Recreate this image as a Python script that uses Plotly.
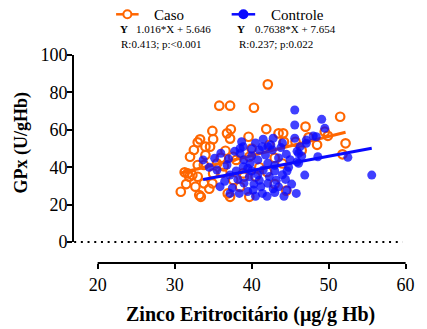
import plotly.graph_objects as go

# Zinco eritrocitário (x) vs GPx (y) for each group
caso_x = [42.1, 35.8, 37.2, 40.3, 51.5, 47.0, 34.9, 37.3, 36.8, 37.2, 39.6, 41.9,
          33.3, 33.0, 34.0, 34.6, 32.5, 36.6, 32.0, 37.6, 39.7, 33.0, 33.8, 31.7,
          32.3, 31.9, 33.0, 31.3, 32.7, 33.8, 34.9, 33.2, 30.8, 36.9, 37.6, 38.9,
          38.0, 43.5, 44.1, 49.5, 49.9, 47.4, 45.7, 44.2, 42.3, 52.2, 51.8, 39.7,
          44.5, 37.2, 33.4, 35.0, 36.2, 39.0, 40.5, 34.5, 36.0, 41.0, 43.0, 40.0,
          35.5, 38.5, 42.0, 44.0, 46.5, 34.0, 31.5, 35.0, 43.0, 48.5, 36.4]
caso_y = [84.3, 72.9, 72.9, 71.8, 67.0, 61.7, 59.4, 60.3, 58.1, 55.3, 56.3, 60.4,
          54.9, 53.3, 51.0, 51.0, 49.2, 48.8, 45.6, 45.6, 45.6, 41.2, 41.2, 36.7,
          35.8, 34.9, 34.9, 37.3, 29.6, 31.4, 31.4, 25.1, 26.9, 26.0, 33.2, 36.7,
          43.9, 58.1, 58.1, 59.0, 56.8, 56.0, 53.6, 53.6, 51.9, 52.8, 46.9, 24.2,
          27.5, 24.2, 24.2, 36.7, 37.0, 35.0, 35.0, 28.5, 45.0, 40.0, 45.0, 50.0,
          42.0, 29.5, 37.5, 42.0, 49.0, 46.5, 31.0, 55.0, 31.0, 52.0, 40.5]

controle_x = [45.6, 49.1, 45.6, 49.5, 45.6, 47.1, 48.4, 48.0, 48.6, 46.9, 55.6, 52.5,
              44.4, 46.1, 45.8, 44.6, 45.9, 46.1, 47.1, 46.3, 45.9, 38.7, 38.5, 40.0,
              41.0, 42.1, 33.7, 35.2, 36.8, 35.9, 38.4, 35.5, 37.2, 38.9, 38.9, 38.5,
              39.7, 40.2, 41.4, 42.1, 40.8, 42.1, 42.7, 41.4, 42.5, 37.2, 39.5, 40.5,
              43.0, 43.5, 44.0, 43.0, 41.5, 40.0, 39.0, 40.0, 43.5, 44.5, 43.8, 41.0,
              42.3, 40.3, 39.0, 36.5, 38.0, 37.0, 41.8, 44.8, 42.8, 41.2, 39.8, 43.2,
              42.0, 44.2, 36.0, 37.8, 45.0, 43.0, 40.5, 44.0, 42.8, 41.5, 39.5, 38.2,
              45.2, 44.6, 40.8, 37.5, 46.5, 34.5]
controle_y = [70.6, 65.6, 62.6, 60.8, 55.5, 54.5, 56.3, 56.7, 45.6, 35.8, 35.8, 45.3,
              33.5, 42.1, 26.0, 27.8, 42.9, 47.4, 52.8, 51.0, 48.5, 53.6, 50.1, 49.7,
              49.2, 51.0, 43.9, 44.8, 41.2, 29.6, 26.0, 38.5, 35.8, 40.3, 51.0, 47.4,
              34.9, 27.8, 26.0, 31.4, 43.9, 42.1, 49.2, 51.0, 51.9, 26.0, 27.0, 24.5,
              26.5, 29.5, 36.0, 38.0, 38.5, 38.0, 44.0, 46.0, 45.0, 47.0, 50.5, 33.0,
              35.0, 31.0, 31.5, 32.5, 38.0, 44.5, 46.5, 40.0, 28.5, 29.5, 42.0, 33.0,
              24.5, 24.5, 47.5, 48.5, 44.0, 41.0, 53.0, 53.0, 55.5, 55.0, 39.5, 33.5,
              31.0, 38.0, 36.0, 29.0, 46.0, 40.0]

# Linear fits: Y = slope*X + intercept
group_names = ["Caso", "Controle"]
fit_slopes = [1.016, 0.7638]
fit_intercepts = [5.646, 7.654]
fit_labels = ["1.016*X + 5.646", "0.7638*X + 7.654"]
fit_stats = ["R:0.413; p:<0.001", "R:0.237; p:0.022"]

x_ticks = [20, 30, 40, 50, 60]
y_ticks = [0, 20, 40, 60, 80, 100]

ORANGE = "#FF6600"
BLUE = "#0A0AFF"
FONT = "Liberation Serif"

W, H = 427, 329
ML, MR, MT, MB = 73, 14, 55, 66
PW, PH = W - ML - MR, H - MT - MB


def px(xp):
    return (xp - ML) / PW


def py(yp):
    return (H - MB - yp) / PH


fig = go.Figure()

fig.add_trace(go.Scatter(
    x=caso_x, y=caso_y, mode="markers",
    marker=dict(symbol="circle-open", size=8.5, color=ORANGE, line=dict(width=2.2, color=ORANGE)),
    showlegend=False, cliponaxis=False))


def fit_line(xs, slope, intercept):
    x0, x1 = min(xs), max(xs)
    return [x0, x1], [slope * x0 + intercept, slope * x1 + intercept]


lx, ly = fit_line(caso_x, fit_slopes[0], fit_intercepts[0])
fig.add_trace(go.Scatter(x=lx, y=ly, mode="lines", line=dict(color=ORANGE, width=3),
                         showlegend=False))

fig.add_trace(go.Scatter(
    x=controle_x, y=controle_y, mode="markers",
    marker=dict(symbol="circle", size=9, color=BLUE, opacity=0.78, line=dict(width=0)),
    showlegend=False, cliponaxis=False))

lx, ly = fit_line(controle_x, fit_slopes[1], fit_intercepts[1])
fig.add_trace(go.Scatter(x=lx, y=ly, mode="lines", line=dict(color=BLUE, width=3),
                         showlegend=False))

shapes = [
    # dotted reference line at zero
    dict(type="line", xref="x", yref="y", x0=16.95, x1=59.6, y0=0, y1=0,
         line=dict(color="black", width=2, dash="2px,4.7px")),
    # y axis spanning 0..100
    dict(type="line", xref="paper", yref="y", x0=0, x1=0, y0=0, y1=100,
         line=dict(color="black", width=2)),
    # x axis spanning 20..60
    dict(type="line", xref="x", yref="paper", x0=20, x1=60, y0=0, y1=0,
         line=dict(color="black", width=2)),
]

annotations = []
legend_specs = [
    (ORANGE, 117, 140, 128.5, False, 154, 119, 135, 120),
    (BLUE, 235, 259, 247, True, 273, 238, 257, 240),
]
for i, (col, lx0, lx1, cx, filled, tx, yx, ex, rx) in enumerate(legend_specs):
    shapes.append(dict(type="line", xref="paper", yref="paper", x0=px(lx0), x1=px(lx1),
                       y0=py(14.3), y1=py(14.3), line=dict(color=col, width=2.5)))
    shapes.append(dict(type="circle", xref="paper", yref="paper",
                       xsizemode="pixel", ysizemode="pixel",
                       xanchor=px(cx), yanchor=py(14.3), x0=-4, x1=4, y0=-4, y1=4,
                       fillcolor=col if filled else "white",
                       line=dict(color=col, width=2)))
    annotations.append(dict(x=px(tx), y=py(15.5), xref="paper", yref="paper",
                            text=group_names[i], showarrow=False, xanchor="left",
                            yanchor="middle", font=dict(family=FONT, size=15, color="black")))
    annotations.append(dict(x=px(yx), y=py(29), xref="paper", yref="paper",
                            text="<b>Y</b>", showarrow=False, xanchor="left",
                            yanchor="middle", font=dict(family=FONT, size=11, color="black")))
    annotations.append(dict(x=px(ex), y=py(29), xref="paper", yref="paper",
                            text=fit_labels[i], showarrow=False, xanchor="left",
                            yanchor="middle", font=dict(family=FONT, size=11, color="black")))
    annotations.append(dict(x=px(rx), y=py(43.5), xref="paper", yref="paper",
                            text=fit_stats[i], showarrow=False, xanchor="left",
                            yanchor="middle", font=dict(family=FONT, size=11, color="black")))

# axis titles
annotations.append(dict(x=px(254), y=py(314), xref="paper", yref="paper",
                        text="<b>Zinco Eritrocitário (μg/g Hb)</b>", showarrow=False,
                        xanchor="center", yanchor="middle",
                        font=dict(family=FONT, size=20, color="black")))
annotations.append(dict(x=px(20), y=py(142.5), xref="paper", yref="paper",
                        text="<b>GPx (U/gHb)</b>", showarrow=False, textangle=-90,
                        xanchor="center", yanchor="middle",
                        font=dict(family=FONT, size=18, color="black")))

fig.update_layout(
    width=W, height=H,
    margin=dict(l=ML, r=MR, t=MT, b=MB, pad=0),
    paper_bgcolor="white", plot_bgcolor="white",
    shapes=shapes, annotations=annotations,
    font=dict(family=FONT, size=18, color="black"),
    xaxis=dict(range=[16.8, 60.05], tickvals=x_ticks, ticktext=[str(v) for v in x_ticks],
               showgrid=False, zeroline=False, showline=False,
               ticks="outside", ticklen=5, tickwidth=2, tickcolor="black",
               tickfont=dict(family=FONT, size=18, color="black")),
    yaxis=dict(range=[-11.2, 100], tickvals=y_ticks, ticktext=[str(v) for v in y_ticks],
               showgrid=False, zeroline=False, showline=False,
               ticks="outside", ticklen=5, tickwidth=2, tickcolor="black",
               ticklabelstandoff=-4,
               tickfont=dict(family=FONT, size=18, color="black")),
)

fig.write_html("out.html")
